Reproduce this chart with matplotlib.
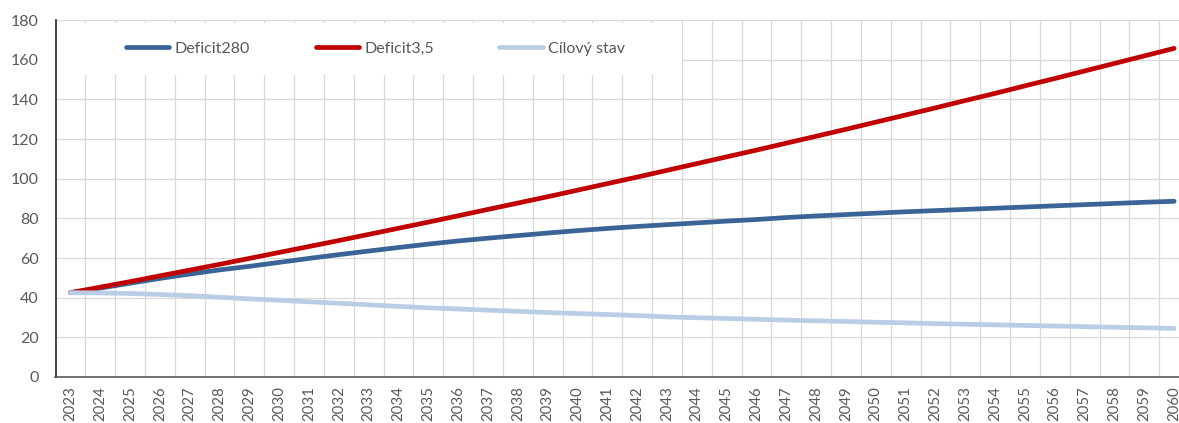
import matplotlib
matplotlib.use("Agg")
import matplotlib.pyplot as plt
from matplotlib.patches import Rectangle
from matplotlib.ticker import FixedLocator, MultipleLocator

years = [str(y) for y in range(2023, 2061)]

deficit280 = [42.5, 44.8, 47.3, 49.7, 51.9, 54.0, 55.8, 57.8, 59.8, 61.7,
              63.5, 65.3, 67.0, 68.6, 70.0, 71.3, 72.6, 73.8, 74.9, 75.9,
              76.8, 77.7, 78.6, 79.4, 80.4, 81.2, 81.9, 82.6, 83.3, 83.9,
              84.5, 85.1, 85.7, 86.3, 86.9, 87.5, 88.1, 88.6]

deficit35 = [42.5, 45.3, 48.1, 51.0, 53.9, 56.8, 59.8, 62.8, 65.8, 68.8,
             71.9, 75.0, 78.1, 81.3, 84.5, 87.7, 90.9, 94.2, 97.5, 100.8,
             104.2, 107.6, 111.0, 114.4, 117.9, 121.4, 124.9, 128.5, 132.1, 135.7,
             139.4, 143.0, 146.8, 150.5, 154.3, 158.1, 161.9, 165.7]

cilovy_stav = [42.5, 42.4, 42.1, 41.6, 41.0, 40.2, 39.4, 38.7, 37.9, 37.2,
               36.4, 35.6, 34.9, 34.3, 33.7, 33.1, 32.5, 32.0, 31.5, 31.0,
               30.3, 29.9, 29.5, 29.1, 28.7, 28.3, 28.0, 27.6, 27.3, 26.9,
               26.6, 26.3, 26.0, 25.7, 25.4, 25.1, 24.8, 24.5]

series_names = ["Deficit280", "Deficit3,5", "Cílový stav"]
colors = ["#3A6396", "#C00000", "#B9CDE5"]

plt.rcParams['font.family'] = ['Lato', 'DejaVu Sans']

W, H = 1179, 423
fig = plt.figure(figsize=(W / 100, H / 100), dpi=100)
left_px, right_px, top_px, bottom_px = 55.5, 1189.0, 20.0, 377.0
ax = fig.add_axes([left_px / W, 1 - bottom_px / H,
                   (right_px - left_px) / W, (bottom_px - top_px) / H])

x = list(range(len(years)))
for vals, name, c in zip([deficit280, deficit35, cilovy_stav], series_names, colors):
    ax.plot(x, vals, color=c, lw=3.4, solid_capstyle='round', label=name, zorder=3)

ax.set_xlim(-0.5, len(years) - 0.5)
ax.set_ylim(0, 180)
ax.yaxis.set_major_locator(MultipleLocator(20))
ax.set_xticks(x)
ax.set_xticklabels(years, rotation=90)
ax.xaxis.set_minor_locator(FixedLocator([i + 0.5 for i in range(len(years) - 1)]))

ax.grid(True, which='major', axis='y', color='#d9d9d9', lw=0.9, zorder=0)
ax.grid(True, which='minor', axis='x', color='#d9d9d9', lw=0.9, zorder=0)
ax.set_axisbelow(True)

ax.tick_params(axis='both', which='both', length=0)
ax.tick_params(axis='y', pad=12, labelsize=11.5, labelcolor='#595959')
ax.tick_params(axis='x', pad=6.5, labelsize=10.8, labelcolor='#595959')

for s in ['top', 'right']:
    ax.spines[s].set_visible(False)
ax.spines['left'].set_color('#262626')
ax.spines['left'].set_linewidth(1.2)
ax.spines['bottom'].set_color('#595959')
ax.spines['bottom'].set_linewidth(1.2)

# white legend background
lx0 = 0.0
lx1 = (682 - left_px) / (right_px - left_px)
ly0 = (bottom_px - 75) / (bottom_px - top_px)
ly1 = (bottom_px - 23.3) / (bottom_px - top_px)
ax.add_patch(Rectangle((lx0, ly0), lx1 - lx0, ly1 - ly0, transform=ax.transAxes,
                       facecolor='white', edgecolor='none', zorder=1.5))

leg = fig.legend(loc='center left', bbox_to_anchor=(126 / W, 1 - 49 / H),
                 ncol=3, frameon=False, borderpad=0, borderaxespad=0,
                 handlelength=2.7, handletextpad=0.35, columnspacing=4.1,
                 fontsize=11.5)
for t in leg.get_texts():
    t.set_color('#595959')

fig.savefig("out.png", dpi=100)
